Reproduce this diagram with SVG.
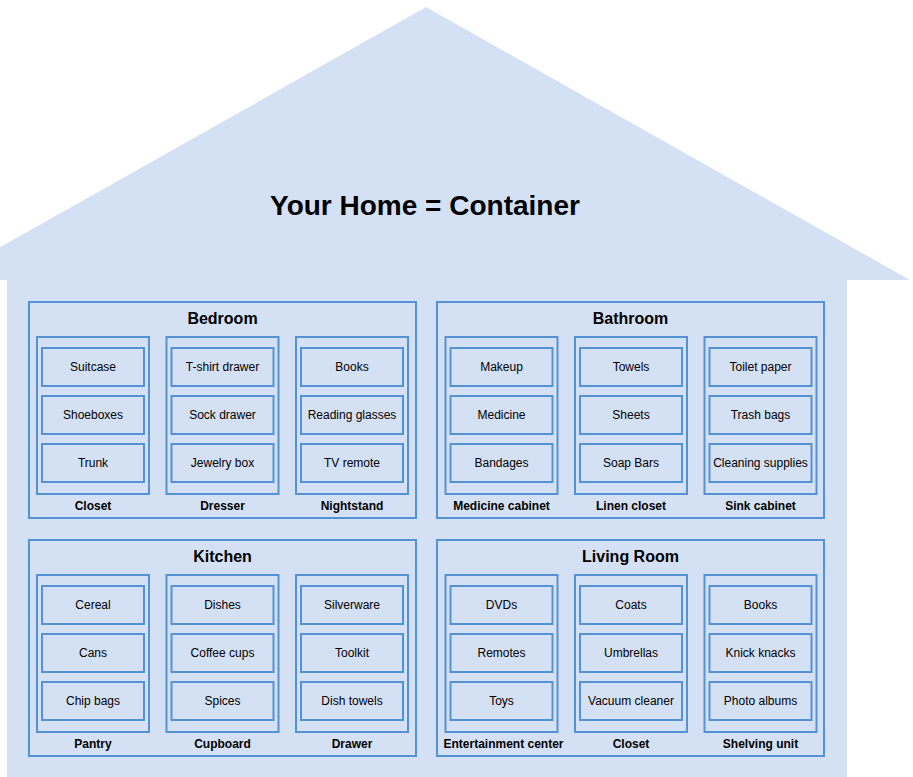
<svg xmlns="http://www.w3.org/2000/svg" width="913" height="777" viewBox="0 0 913 777">
<style>
.house{fill:#d4e1f5;stroke:none}
.box{fill:#d4e1f5;stroke:#5592d5;stroke-width:2}
.t{font-family:"Liberation Sans",Arial,sans-serif;fill:#000;text-anchor:middle}
.title{font-size:28px;font-weight:bold}
.room{font-size:16px;font-weight:bold}
.item{font-size:12px}
.sub{font-size:12px;font-weight:bold}
</style>
<defs>
<g id="col">
<rect class="box" x="0" y="0" width="112" height="157"/>
<rect class="box" x="5" y="11" width="102" height="38"/>
<rect class="box" x="5" y="59" width="102" height="38"/>
<rect class="box" x="5" y="107" width="102" height="38"/>
</g>
</defs>
<g id="house">
<polygon class="house" points="426,7 910,280 847,280 847,777 7,777 7,280 -58,280"/>
<text class="t title" x="425" y="215">Your Home = Container</text>
</g>

<g id="bedroom">
<rect class="box" x="29" y="302" width="387" height="216"/>
<text class="t room" x="222.5" y="324">Bedroom</text>
<g id="closet1"><use href="#col" x="37" y="337"/>
<text class="t item" x="93" y="371">Suitcase</text>
<text class="t item" x="93" y="419">Shoeboxes</text>
<text class="t item" x="93" y="467">Trunk</text>
<text class="t sub" x="93" y="510">Closet</text></g>
<g id="dresser"><use href="#col" x="166.5" y="337"/>
<text class="t item" x="222.5" y="371">T-shirt drawer</text>
<text class="t item" x="222.5" y="419">Sock drawer</text>
<text class="t item" x="222.5" y="467">Jewelry box</text>
<text class="t sub" x="222.5" y="510">Dresser</text></g>
<g id="nightstand"><use href="#col" x="296" y="337"/>
<text class="t item" x="352" y="371">Books</text>
<text class="t item" x="352" y="419">Reading glasses</text>
<text class="t item" x="352" y="467">TV remote</text>
<text class="t sub" x="352" y="510">Nightstand</text></g>
</g>

<g id="bathroom">
<rect class="box" x="437" y="302" width="387" height="216"/>
<text class="t room" x="630.5" y="324">Bathroom</text>
<g id="medicine"><use href="#col" x="445.5" y="337"/>
<text class="t item" x="501.5" y="371">Makeup</text>
<text class="t item" x="501.5" y="419">Medicine</text>
<text class="t item" x="501.5" y="467">Bandages</text>
<text class="t sub" x="501.5" y="510">Medicine cabinet</text></g>
<g id="linen"><use href="#col" x="575" y="337"/>
<text class="t item" x="631" y="371">Towels</text>
<text class="t item" x="631" y="419">Sheets</text>
<text class="t item" x="631" y="467">Soap Bars</text>
<text class="t sub" x="631" y="510">Linen closet</text></g>
<g id="sink"><use href="#col" x="704.5" y="337"/>
<text class="t item" x="760.5" y="371">Toilet paper</text>
<text class="t item" x="760.5" y="419">Trash bags</text>
<text class="t item" x="760.5" y="467">Cleaning supplies</text>
<text class="t sub" x="760.5" y="510">Sink cabinet</text></g>
</g>

<g id="kitchen">
<rect class="box" x="29" y="540" width="387" height="216"/>
<text class="t room" x="222.5" y="562">Kitchen</text>
<g id="pantry"><use href="#col" x="37" y="575"/>
<text class="t item" x="93" y="609">Cereal</text>
<text class="t item" x="93" y="657">Cans</text>
<text class="t item" x="93" y="705">Chip bags</text>
<text class="t sub" x="93" y="748">Pantry</text></g>
<g id="cupboard"><use href="#col" x="166.5" y="575"/>
<text class="t item" x="222.5" y="609">Dishes</text>
<text class="t item" x="222.5" y="657">Coffee cups</text>
<text class="t item" x="222.5" y="705">Spices</text>
<text class="t sub" x="222.5" y="748">Cupboard</text></g>
<g id="drawer"><use href="#col" x="296" y="575"/>
<text class="t item" x="352" y="609">Silverware</text>
<text class="t item" x="352" y="657">Toolkit</text>
<text class="t item" x="352" y="705">Dish towels</text>
<text class="t sub" x="352" y="748">Drawer</text></g>
</g>

<g id="livingroom">
<rect class="box" x="437" y="540" width="387" height="216"/>
<text class="t room" x="630.5" y="562">Living Room</text>
<g id="entertainment"><use href="#col" x="445.5" y="575"/>
<text class="t item" x="501.5" y="609">DVDs</text>
<text class="t item" x="501.5" y="657">Remotes</text>
<text class="t item" x="501.5" y="705">Toys</text>
<text class="t sub" x="503.5" y="748">Entertainment center</text></g>
<g id="closet2"><use href="#col" x="575" y="575"/>
<text class="t item" x="631" y="609">Coats</text>
<text class="t item" x="631" y="657">Umbrellas</text>
<text class="t item" x="631" y="705">Vacuum cleaner</text>
<text class="t sub" x="631" y="748">Closet</text></g>
<g id="shelving"><use href="#col" x="704.5" y="575"/>
<text class="t item" x="760.5" y="609">Books</text>
<text class="t item" x="760.5" y="657">Knick knacks</text>
<text class="t item" x="760.5" y="705">Photo albums</text>
<text class="t sub" x="760.5" y="748">Shelving unit</text></g>
</g>
<g id="connectors"/>
</svg>
